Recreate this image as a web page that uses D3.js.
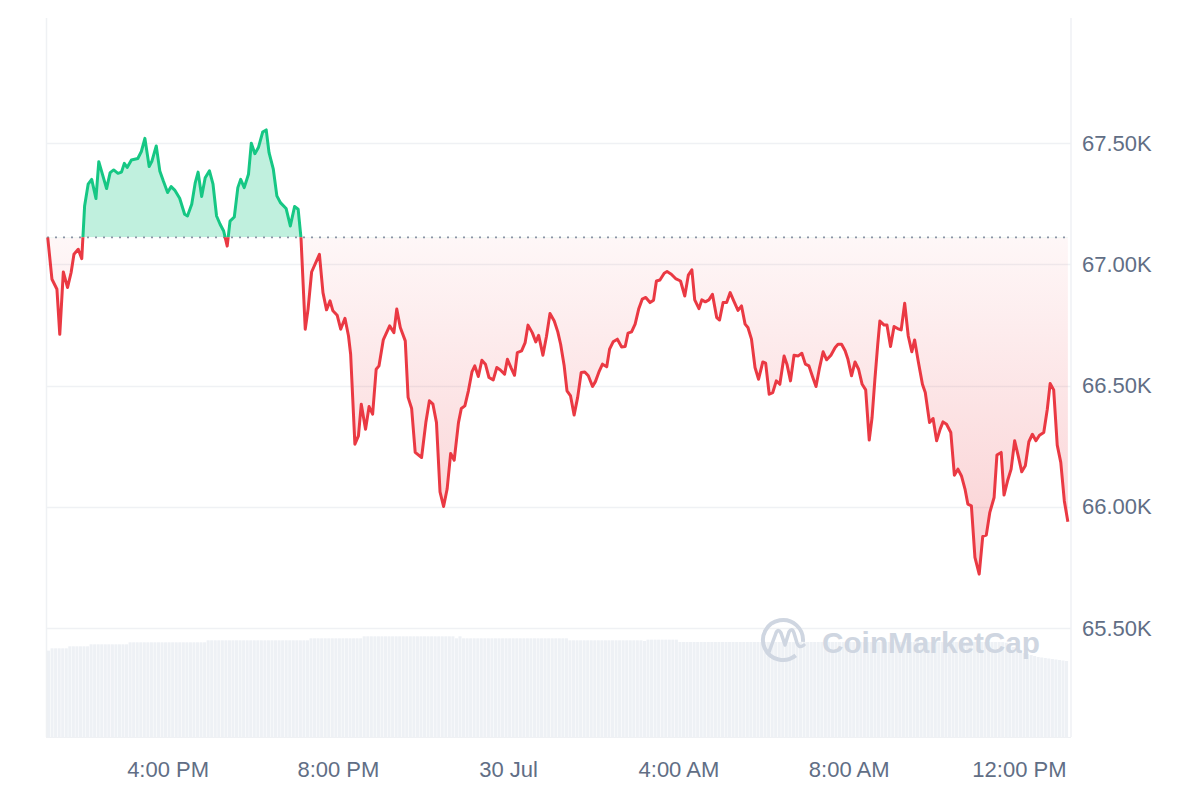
<!DOCTYPE html>
<html>
<head>
<meta charset="utf-8">
<script src="https://cdn.jsdelivr.net/npm/d3@7"></script>
<style>
  html, body { margin: 0; padding: 0; background: #fff; }
  svg { display: block; font-family: "Liberation Sans", Arial, sans-serif; }
</style>
</head>
<body>
<svg id="chart" width="1200" height="800"></svg>
<script>
// BTC price, 29 Jul 13:10 -> 30 Jul 13:10 (5 min samples)
const startTime = new Date(2024, 6, 29, 13, 10);
const endTime = new Date(2024, 6, 30, 13, 12);

// minutes after 13:10 on 29 Jul
const priceMinutes = [1,7,14,18,23,29,34,38,44,49,53,58,63,69,73,84,89,94,100,105,
  109,113,119,128,133,138,144,148,154,159,164,170,175,180,187,194,198,204,209,213,
  218,223,229,234,239,244,249,254,258,264,269,273,278,284,288,293,298,304,309,313,
  319,324,329,337,343,349,354,358,364,368,373,384,389,394,399,403,409,414,420,425,
  428,434,439,443,449,454,459,464,468,474,483,489,493,498,505,509,514,519,528,534,
  539,544,549,554,559,564,569,574,580,584,589,594,599,603,608,613,618,623,629,634,
  639,645,649,654,659,663,669,674,678,684,689,693,699,704,709,715,720,724,729,733,
  738,743,748,753,758,763,769,773,778,783,789,793,798,804,810,815,819,824,829,834,
  839,844,850,855,859,864,870,874,880,886,893,899,904,909,913,919,923,928,933,938,
  944,948,953,958,963,968,974,979,984,988,993,998,1003,1009,1013,1018,1023,1028,1033,1039,
  1043,1048,1053,1059,1064,1069,1074,1079,1084,1089,1094,1099,1105,1111,1115,1120,1125,1129,1134,1139,
  1144,1149,1154,1159,1163,1167,1171,1174,1180,1184,1189,1194,1199,1204,1209,1214,1219,1223,1228,1234,
  1238,1244,1249,1254,1259,1263,1268,1274,1279,1284,1289,1294,1298,1303,1308,1314,1319,1324,1329,1335,
  1339,1345,1349,1354,1359,1364,1369,1374,1379,1384,1389,1394,1399,1405,1410,1414,1419,1424,1429,1434,
  1439];

const prices = [67111,66938,66897,66711,66968,66904,66966,67041,67062,67023,
  67240,67330,67350,67271,67423,67312,67378,67389,67375,67380,
  67416,67399,67430,67436,67465,67519,67403,67426,67488,67385,
  67343,67296,67320,67306,67272,67206,67199,67247,67337,67380,
  67279,67357,67385,67330,67199,67165,67137,67075,67178,67195,
  67316,67350,67316,67371,67499,67456,67481,67545,67554,67460,
  67392,67282,67254,67230,67158,67238,67227,67110,66732,66815,
  66968,67041,66883,66812,66849,66808,66790,66732,66777,66704,
  66629,66258,66292,66423,66320,66413,66382,66567,66581,66688,
  66746,66718,66815,66739,66684,66451,66405,66224,66203,66347,
  66437,66423,66347,66061,66001,66073,66220,66192,66347,66405,
  66416,66478,66556,66581,66537,66604,66588,66533,66523,66574,
  66564,66547,66608,66574,66542,66636,66643,66677,66749,66718,
  66680,66707,66625,66702,66797,66766,66721,66670,66581,66478,
  66457,66378,66451,66554,66556,66540,66496,66516,66556,66588,
  66577,66650,66680,66691,66659,66661,66716,66721,66753,66815,
  66856,66863,66842,66852,66931,66935,66963,66970,66959,66941,
  66931,66869,66955,66977,66853,66817,66853,66845,66853,66876,
  66780,66770,66842,66842,66883,66849,66810,66828,66753,66739,
  66691,66574,66526,66597,66592,66464,66471,66519,66505,66622,
  66588,66519,66625,66622,66633,66588,66581,66537,66496,66574,
  66639,66606,66625,66657,66670,66670,66643,66608,66540,66597,
  66567,66505,66482,66275,66368,66526,66670,66766,66749,66749,
  66661,66743,66735,66729,66839,66704,66639,66688,66601,66505,
  66471,66347,66364,66272,66320,66350,66340,66306,66130,66155,
  66127,66073,66011,66004,65791,65722,65878,65883,65977,66038,
  66213,66224,66048,66107,66155,66272,66210,66144,66169,66268,
  66299,66272,66295,66306,66402,66508,66482,66254,66183,66024,
  65938];

// 24h volume (B USD), one bar per 5 min
const volume = [25.9,
  26.6,26.6,26.6,26.6,26.6,
  27.2,27.2,27.2,27.2,27.2,27.2,
  27.8,27.8,27.8,27.8,27.8,27.8,27.8,27.8,27.8,27.8,27.8,
  28.4,28.4,28.4,28.4,28.4,28.4,28.4,28.4,28.4,28.4,28.4,28.4,28.4,28.4,28.4,28.4,28.4,28.4,28.4,28.4,28.4,28.4,
  29.0,29.0,29.0,29.0,29.0,29.0,29.0,29.0,29.0,29.0,29.0,29.0,29.0,29.0,29.0,29.0,29.0,29.0,29.0,29.0,29.0,29.0,29.0,29.0,29.0,29.0,29.0,29.0,29.0,
  29.6,29.6,29.6,29.6,29.6,29.6,29.6,29.6,29.6,29.6,29.6,29.6,29.6,29.6,29.6,
  30.2,30.2,30.2,30.2,30.2,30.2,30.2,30.2,30.2,30.2,30.2,30.2,30.2,30.2,30.2,30.2,30.2,30.2,30.2,30.2,30.2,30.2,30.2,30.2,30.2,30.2,
  29.6,30.2,
  29.6,29.6,29.6,29.6,29.6,29.6,29.6,29.6,29.6,29.6,29.6,29.6,29.6,29.6,29.6,29.6,29.6,29.6,29.6,29.6,29.6,29.6,29.6,29.6,29.6,29.6,29.6,29.6,29.6,29.6,
  29.0,29.0,29.0,29.0,29.0,29.0,29.0,29.0,29.0,29.0,29.0,29.0,29.0,29.0,29.0,29.0,29.0,29.0,29.0,29.0,29.0,
  28.8,
  29.2,29.2,29.2,29.2,29.2,29.2,29.2,29.2,29.2,
  28.5,28.5,28.5,28.5,28.5,28.5,28.5,28.5,28.5,28.5,28.5,28.5,28.5,28.5,28.5,28.5,28.5,28.5,28.5,28.5,
  28.5,28.5,28.5,28.5,28.5,28.5,28.5,28.5,28.5,28.5,28.5,28.5,28.5,28.5,28.5,28.5,28.5,28.5,28.5,28.5,
  28.5,28.5,28.5,28.5,28.5,28.5,28.5,28.5,28.5,28.5,28.5,28.5,28.5,28.5,28.5,28.5,28.5,28.5,28.5,28.5,
  28.5,28.5,28.5,28.5,28.5,28.5,28.5,28.5,28.5,28.5,28.5,28.5,28.5,28.5,28.5,28.5,28.5,28.5,28.5,28.5,
  28.5,28.5,28.5,28.5,28.5,28.5,28.5,28.5,28.5,28.5,28.5,28.5,
  28.3,
  27.6,27.0,26.4,25.8,25.2,24.9,24.6,24.3,24.0,23.85,23.7,23.55,23.4,23.25,23.1,22.95,22.8];

const yTicks = [65500, 66000, 66500, 67000, 67500];
const xTickTimes = [new Date(2024,6,29,16), new Date(2024,6,29,20), new Date(2024,6,30,0),
  new Date(2024,6,30,4), new Date(2024,6,30,8), new Date(2024,6,30,12)];

const GREEN = "#16c784", RED = "#ea3943";
const plotTop = 18, plotBottom = 737, left = 47, right = 1070;

const data = prices.map((p, i) => ({
  t: d3.timeMinute.offset(startTime, priceMinutes[i]),
  v: p
}));
const baseline = prices[0];

const svg = d3.select("#chart");

const x = d3.scaleTime().domain([startTime, endTime]).range([left, right]);
const y = d3.scaleLinear().domain([65500, 67500]).range([628, 143]);
const yVol = d3.scaleLinear().domain([0, 30]).range([plotBottom, plotBottom - 100]);

// volume bars
const barStep = x(d3.timeMinute.offset(startTime, 5)) - x(startTime);
svg.append("g")
  .selectAll("rect")
  .data(volume)
  .join("rect")
  .attr("x", (d, i) => x(d3.timeMinute.offset(startTime, i * 5)))
  .attr("y", d => yVol(d))
  .attr("width", barStep - 0.5)
  .attr("height", d => plotBottom - yVol(d))
  .attr("fill", "#eef1f5");

// grid
svg.append("g")
  .selectAll("line")
  .data(yTicks)
  .join("line")
  .attr("x1", left).attr("x2", right + 1)
  .attr("y1", d => Math.round(y(d)) + 0.5).attr("y2", d => Math.round(y(d)) + 0.5)
  .attr("stroke", "#eff1f4").attr("stroke-width", 1.5);

svg.append("line")
  .attr("x1", left - 0.5).attr("x2", left - 0.5).attr("y1", plotTop).attr("y2", plotBottom)
  .attr("stroke", "#eff1f4").attr("stroke-width", 1.5);
svg.append("line")
  .attr("x1", right + 1).attr("x2", right + 1).attr("y1", plotTop).attr("y2", plotBottom)
  .attr("stroke", "#eff1f4").attr("stroke-width", 1.5);
svg.append("line")
  .attr("x1", left - 1).attr("x2", right + 1).attr("y1", plotBottom + 0.5).attr("y2", plotBottom + 0.5)
  .attr("stroke", "#eff1f4").attr("stroke-width", 1);

// watermark
const wm = svg.append("g").attr("fill", "none").attr("stroke", "#cfd6e1");
wm.append("path")
  .attr("d", d3.arc()({ innerRadius: 20, outerRadius: 20, startAngle: 2.45, endAngle: 2.45 + Math.PI * 1.75 }))
  .attr("transform", "translate(783,640)")
  .attr("stroke-width", 4);
wm.append("path")
  .attr("d", "M769,652 L776,633 Q778,628 781,633 L785,645 L789,632 Q792,627 794,633 L797,643 Q799,649 804,645")
  .attr("stroke-width", 3.5).attr("stroke-linecap", "round").attr("stroke-linejoin", "round");
svg.append("text")
  .attr("x", 822).attr("y", 653)
  .attr("font-size", 30).attr("font-weight", 700)
  .attr("fill", "#cfd6e1")
  .attr("textLength", 218).attr("lengthAdjust", "spacingAndGlyphs")
  .text("CoinMarketCap");

// gradients + clips
const defs = svg.append("defs");
const redGrad = defs.append("linearGradient").attr("id", "redGrad")
  .attr("gradientUnits", "userSpaceOnUse")
  .attr("x1", 0).attr("x2", 0).attr("y1", y(baseline)).attr("y2", y(d3.min(prices)));
redGrad.append("stop").attr("offset", 0).attr("stop-color", RED).attr("stop-opacity", 0.04);
redGrad.append("stop").attr("offset", 1).attr("stop-color", RED).attr("stop-opacity", 0.24);

defs.append("clipPath").attr("id", "clipAbove").append("rect")
  .attr("x", 0).attr("y", 0).attr("width", 1200).attr("height", y(baseline));
defs.append("clipPath").attr("id", "clipBelow").append("rect")
  .attr("x", 0).attr("y", y(baseline)).attr("width", 1200).attr("height", 800);

const area = d3.area().x(d => x(d.t)).y0(y(baseline)).y1(d => y(d.v));
const line = d3.line().x(d => x(d.t)).y(d => y(d.v));

svg.append("path").datum(data).attr("d", area)
  .attr("fill", GREEN).attr("fill-opacity", 0.27).attr("clip-path", "url(#clipAbove)");
svg.append("path").datum(data).attr("d", area)
  .attr("fill", "url(#redGrad)").attr("clip-path", "url(#clipBelow)");

// dotted open-price line
svg.append("line")
  .attr("x1", left).attr("x2", right)
  .attr("y1", y(baseline)).attr("y2", y(baseline))
  .attr("stroke", "#8a93a5").attr("stroke-width", 1.8)
  .attr("stroke-dasharray", "2,6");

svg.append("path").datum(data).attr("d", line)
  .attr("fill", "none").attr("stroke", GREEN).attr("stroke-width", 3)
  .attr("stroke-linejoin", "round").attr("clip-path", "url(#clipAbove)");
svg.append("path").datum(data).attr("d", line)
  .attr("fill", "none").attr("stroke", RED).attr("stroke-width", 3)
  .attr("stroke-linejoin", "round").attr("clip-path", "url(#clipBelow)");

// axes labels
const fmtX = d => d.getHours() === 0 ? d3.timeFormat("%-d %b")(d) : d3.timeFormat("%-I:%M %p")(d);
svg.append("g")
  .attr("transform", `translate(0,${plotBottom})`)
  .call(d3.axisBottom(x).tickValues(xTickTimes).tickFormat(fmtX).tickSize(0).tickPadding(24))
  .call(g => g.select(".domain").remove())
  .call(g => g.selectAll("text").attr("fill", "#616e85").attr("font-size", 22)
    .attr("font-family", "\"Liberation Sans\", Arial, sans-serif"));

svg.append("g")
  .attr("transform", `translate(${right},0)`)
  .call(d3.axisRight(y).tickValues(yTicks).tickFormat(d => (d / 1000).toFixed(2) + "K").tickSize(0).tickPadding(12))
  .call(g => g.select(".domain").remove())
  .call(g => g.selectAll("text").attr("fill", "#616e85").attr("font-size", 22)
    .attr("font-family", "\"Liberation Sans\", Arial, sans-serif"));
</script>
</body>
</html>
